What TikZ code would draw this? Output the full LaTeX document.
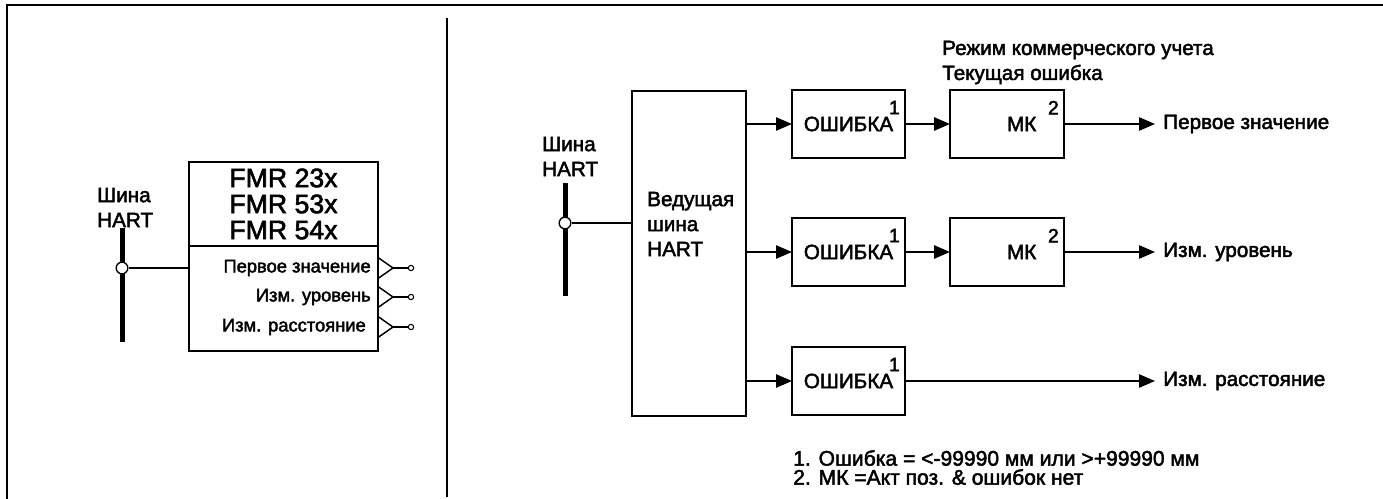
\documentclass[tikz,border=0pt]{standalone}
\usepackage{fontspec}
\setmainfont{Liberation Sans}[FakeBold=2.2]
\usetikzlibrary{arrows.meta,positioning,calc}

\begin{document}
\begin{tikzpicture}[x=0.75pt, y=-0.75pt, >={Triangle[length=12pt,width=10pt]},
  blk/.style={draw, line width=1.3pt, rectangle, inner sep=0pt, outer sep=0pt},
  txt/.style={font=\fontsize{15.5}{18.75}\selectfont, inner sep=0pt},
  errbox/.style={blk, txt, minimum width=84.75pt, minimum height=51pt},
  mkbox/.style={blk, txt, minimum width=85.5pt, minimum height=51pt},
  sm/.style={font=\fontsize{13.75}{16}\selectfont, inner sep=0pt},
  supno/.style={font=\fontsize{14.5}{16}\selectfont, inner sep=0pt, anchor=north east, xshift=-3.75pt, yshift=-8pt},
  wire/.style={line width=1.1pt},
  bus/.style={line width=3.75pt},
  tap/.style={circle, draw, fill=white, line width=1pt, minimum size=8.75pt, inner sep=0pt},
  pin/.style={circle, draw, line width=0.8pt, minimum size=4pt, inner sep=0pt}]
\useasboundingbox (0,0) rectangle (1383,499);
\draw[line width=1.5pt] (7,499) -- (7,5) -- (1383,5);
\draw[line width=1.1pt] (447,18) -- (447,497);

% left: device
\coordinate (busLtop) at (122,228);
\coordinate (busLbot) at (122,342);
\draw[bus] (busLtop) -- (busLbot);
\node[tap] (tapL) at (122,268) {};
\node[txt, align=left, anchor=west] (hartL) at (97,207.5) {Шина\\HART};
\node[blk, minimum width=141.75pt, minimum height=63pt, align=center,
  font=\fontsize{20}{19.5}\selectfont] (dev) at (283.5,204) {FMR 23x\\FMR 53x\\FMR 54x};
\node[blk, minimum width=141.75pt, minimum height=78.75pt, below=0pt of dev] (io) {};
\draw[wire] (tapL) -- (tapL -| io.west);
\foreach \y/\dx/\t [count=\i] in {268/0/Первое значение, 297/0/Изм. уровень, 327/5/Изм. расстояние} {
  \node[sm, anchor=east] (o\i) at (371-\dx,\y) {\t};
  \draw[wire] (378,\y-10.5) -- (393,\y) -- (378,\y+10.5);
  \node[pin] (p\i) at (411,\y) {};
  \draw[wire] (393,\y) -- (p\i);
}

% right: master
\coordinate (busRtop) at (565,183);
\coordinate (busRbot) at (565,296);
\draw[bus] (busRtop) -- (busRbot);
\node[tap] (tapR) at (565,223) {};
\node[txt, align=left, anchor=west] (hartR) at (542,156.5) {Шина\\HART};
\node[blk, minimum width=85.5pt, minimum height=243.75pt] (host) at (689,253.5) {};
\node[txt, align=left, anchor=west] (hostlbl) at (647,224) {Ведущая\\шина\\HART};
\draw[wire] (tapR) -- (tapR -| host.west);

\node[errbox, label={[supno]north east:1}] (err1) at (848.5,124) {ОШИБКА};
\node[mkbox, label={[supno]north east:2}] (mk1) at (1007,124) {\hspace*{22pt}МК};
\node[txt, anchor=west, inner xsep=6pt] (v1) at (1155,124) {Первое значение};
\draw[wire,->] (host.east |- err1.west) -- (err1.west);
\draw[wire,->] (err1.east) -- (mk1.west);
\draw[wire,->] (mk1.east) -- (v1.west);

\node[errbox, label={[supno]north east:1}] (err2) at (848.5,252) {ОШИБКА};
\node[mkbox, label={[supno]north east:2}] (mk2) at (1007,252) {\hspace*{22pt}МК};
\node[txt, anchor=west, inner xsep=6pt] (v2) at (1155,252) {Изм. уровень};
\draw[wire,->] (host.east |- err2.west) -- (err2.west);
\draw[wire,->] (err2.east) -- (mk2.west);
\draw[wire,->] (mk2.east) -- (v2.west);

\node[errbox, label={[supno]north east:1}] (err3) at (848.5,381) {ОШИБКА};
\node[txt, anchor=west, inner xsep=6pt] (v3) at (1155,381) {Изм. расстояние};
\draw[wire,->] (host.east |- err3.west) -- (err3.west);
\draw[wire,->] (err3.east) -- (v3.west);

\node[txt, align=left, anchor=west] (note) at (942,62.5) {Режим коммерческого учета\\Текущая ошибка};
\node[txt, align=left, anchor=west, font=\fontsize{15.8}{14.25}\selectfont] (fn) at (793,467.5)
  {1. Ошибка = <-99990 мм или >+99990 мм\\2. МК =Акт поз. \& ошибок нет};
\end{tikzpicture}
\end{document}
